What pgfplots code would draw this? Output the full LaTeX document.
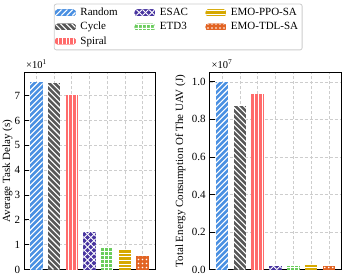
\documentclass[border=0pt]{standalone}
\usepackage{fontspec}
\setmainfont{Liberation Serif}
\usepackage{pgfplots}
\pgfplotsset{compat=1.18}
\definecolor{cRandom}{RGB}{74,144,226}
\definecolor{cCycle}{RGB}{88,88,88}
\definecolor{cSpiral}{RGB}{255,107,107}
\definecolor{cESAC}{RGB}{72,52,160}
\definecolor{cETD3}{RGB}{106,204,92}
\definecolor{cPPO}{RGB}{214,168,0}
\definecolor{cTDL}{RGB}{226,100,36}
\definecolor{gridc}{RGB}{205,205,205}
\tikzset{
  hNE/.style={path picture={\begin{pgfinterruptboundingbox}\path (path picture bounding box.south west) coordinate (sw);
     \foreach \k in {-42,...,4} \draw[white, line width=1.1bp] ([xshift=\k*5.6bp]sw) -- ++(240bp,240bp);\end{pgfinterruptboundingbox}}},
  hNW/.style={path picture={\begin{pgfinterruptboundingbox}\path (path picture bounding box.south west) coordinate (sw);
     \foreach \k in {-4,...,46} \draw[white, line width=1.1bp] ([xshift=\k*5.6bp]sw) -- ++(-240bp,240bp);\end{pgfinterruptboundingbox}}},
  hX/.style={path picture={\begin{pgfinterruptboundingbox}\path (path picture bounding box.south west) coordinate (sw);
     \foreach \k in {-36,...,4} \draw[white, line width=0.9bp] ([xshift=\k*6.4bp+1bp]sw) -- ++(240bp,240bp);
     \foreach \k in {-4,...,40} \draw[white, line width=0.9bp] ([xshift=\k*6.4bp+1bp]sw) -- ++(-240bp,240bp);\end{pgfinterruptboundingbox}}},
  hV/.style={path picture={\begin{pgfinterruptboundingbox}\path (path picture bounding box.south west) coordinate (sw);
     \foreach \k in {1,...,5} \draw[white, line width=1.1bp] ([xshift=\k*3.7bp-0.4bp]sw) -- ++(0bp,240bp);\end{pgfinterruptboundingbox}}},
  hH/.style={path picture={\begin{pgfinterruptboundingbox}\path (path picture bounding box.south west) coordinate (sw);
     \foreach \k in {0,...,55} \draw[white, line width=1bp] ([yshift=\k*3.7bp+1.6bp]sw) -- ++(30bp,0bp);\end{pgfinterruptboundingbox}}},
  hG/.style={path picture={\begin{pgfinterruptboundingbox}\path (path picture bounding box.south west) coordinate (sw);
     \foreach \k in {1,...,5} \draw[white, line width=0.8bp] ([xshift=\k*4bp-1bp]sw) -- ++(0bp,240bp);
     \foreach \k in {0,...,55} \draw[white, line width=0.8bp] ([yshift=\k*4bp+2bp]sw) -- ++(30bp,0bp);\end{pgfinterruptboundingbox}}},
  hO/.style={path picture={\begin{pgfinterruptboundingbox}\path (path picture bounding box.south west) coordinate (sw);
     \foreach \i in {0,...,4} \foreach \j in {0,...,8} \fill[white] ([xshift=\i*4bp+2bp, yshift=\j*4bp+2bp]sw) circle (0.9bp);\end{pgfinterruptboundingbox}}},
}
\pgfplotsset{
  sRandom/.style={fill=cRandom, draw=none, postaction={hNE}},
  sCycle/.style={fill=cCycle, draw=none, postaction={hNW}},
  sSpiral/.style={fill=cSpiral, draw=none, postaction={hV}},
  sESAC/.style={fill=cESAC, draw=none, postaction={hX}},
  sETD3/.style={fill=cETD3, draw=none, postaction={hG}},
  sPPO/.style={fill=cPPO, draw=none, postaction={hH}},
  sTDL/.style={fill=cTDL, draw=none, postaction={hO}},
  onebar/.style={ybar, bar width=0.7, bar shift=0pt},
  common/.style={
    scale only axis, height=197bp, ymin=0, xmin=-0.7, xmax=6.7,
    xtick={0,...,6}, xticklabels={}, xtick style={draw=none},
    ytick pos=left, tick align=inside, major tick length=5bp,
    ymajorgrids, xmajorgrids,
    major grid style={dash pattern=on 3bp off 2bp, color=gridc, line width=0.6bp},
    axis line style={line width=0.8bp, black},
    every tick/.style={black, line width=0.8bp},
    /pgf/number format/assume math mode=true,
    tick label style={font=\fontsize{11bp}{13bp}\selectfont},
    label style={font=\fontsize{11bp}{13bp}\selectfont},
    clip=false,
  },
}
\begin{document}
\fontsize{11bp}{13bp}\selectfont
\begin{tikzpicture}
\path[use as bounding box] (0bp,0bp) rectangle (344bp,274bp);
\begin{axis}[common, at={(24bp,4.5bp)}, anchor=south west, width=131bp,
  ymax=7.93, ytick={0,1,2,3,4,5,6,7},
  ylabel={Average Task Delay (s)},
  ylabel style={at={(axis description cs:-0.126,0.5)}, anchor=center}]
\addplot[onebar, sRandom] coordinates {(0,7.55)};
\addplot[onebar, sCycle] coordinates {(1,7.50)};
\addplot[onebar, sSpiral] coordinates {(2,7.02)};
\addplot[onebar, sESAC] coordinates {(3,1.52)};
\addplot[onebar, sETD3] coordinates {(4,0.90)};
\addplot[onebar, sPPO] coordinates {(5,0.78)};
\addplot[onebar, sTDL] coordinates {(6,0.55)};
\node[anchor=base west, inner sep=0pt, xshift=2bp, yshift=4.2bp] at (rel axis cs:0,1) {\fontsize{10.5bp}{12bp}\selectfont ×10\textsuperscript{1}};
\end{axis}
\begin{axis}[common, at={(209.5bp,4.5bp)}, anchor=south west, width=132bp,
  ymax=1.05, ytick={0,0.2,0.4,0.6,0.8,1.0},
  yticklabel style={/pgf/number format/.cd, fixed, fixed zerofill, precision=1},
  ylabel={Total Energy Consumption Of The UAV (J)},
  ylabel style={at={(axis description cs:-0.22,0.5)}, anchor=center}]
\addplot[onebar, sRandom] coordinates {(0,1.0)};
\addplot[onebar, sCycle] coordinates {(1,0.869)};
\addplot[onebar, sSpiral] coordinates {(2,0.937)};
\addplot[onebar, sESAC] coordinates {(3,0.017)};
\addplot[onebar, sETD3] coordinates {(4,0.019)};
\addplot[onebar, sPPO] coordinates {(5,0.022)};
\addplot[onebar, sTDL] coordinates {(6,0.020)};
\node[anchor=base west, inner sep=0pt, xshift=2bp, yshift=4.2bp] at (rel axis cs:0,1) {\fontsize{10.5bp}{12bp}\selectfont ×10\textsuperscript{7}};
\end{axis}
\begin{axis}[at={(0bp,0bp)}, anchor=south west, scale only axis, width=344bp, height=274bp,
  xmin=0, xmax=1, ymin=0, ymax=1, hide axis,
  legend columns=3, legend cell align=left,
  legend image code/.code={\begin{scope}\clip (0bp,-3bp) rectangle (20bp,3bp);
    \path[#1] (0bp,-3bp) rectangle (20bp,3bp);\end{scope}
    \pgfresetboundingbox\path[use as bounding box] (0bp,-3bp) rectangle (20bp,3bp);},
  legend style={at={(0.518,0.9015)}, anchor=center, draw=gridc, line width=0.8bp,
    rounded corners=2bp, fill=white, font=\fontsize{11bp}{13bp}\selectfont,
    inner xsep=1.2bp, inner ysep=2bp, row sep=1bp, cells={anchor=west},
    /tikz/every odd column/.append style={column sep=3bp},
    /tikz/every even column/.append style={column sep=0bp},
    /tikz/column 2/.append style={text width=52.5bp},
    /tikz/column 4/.append style={text width=44bp},
    /tikz/column 6/.append style={text width=68bp}}]
\addlegendimage{sRandom}\addlegendentry{Random}
\addlegendimage{sESAC}\addlegendentry{ESAC}
\addlegendimage{sPPO}\addlegendentry{EMO-PPO-SA}
\addlegendimage{sCycle}\addlegendentry{Cycle}
\addlegendimage{sETD3}\addlegendentry{ETD3}
\addlegendimage{sTDL}\addlegendentry{EMO-TDL-SA}
\addlegendimage{sSpiral}\addlegendentry{Spiral}
\end{axis}
\end{tikzpicture}
\end{document}
